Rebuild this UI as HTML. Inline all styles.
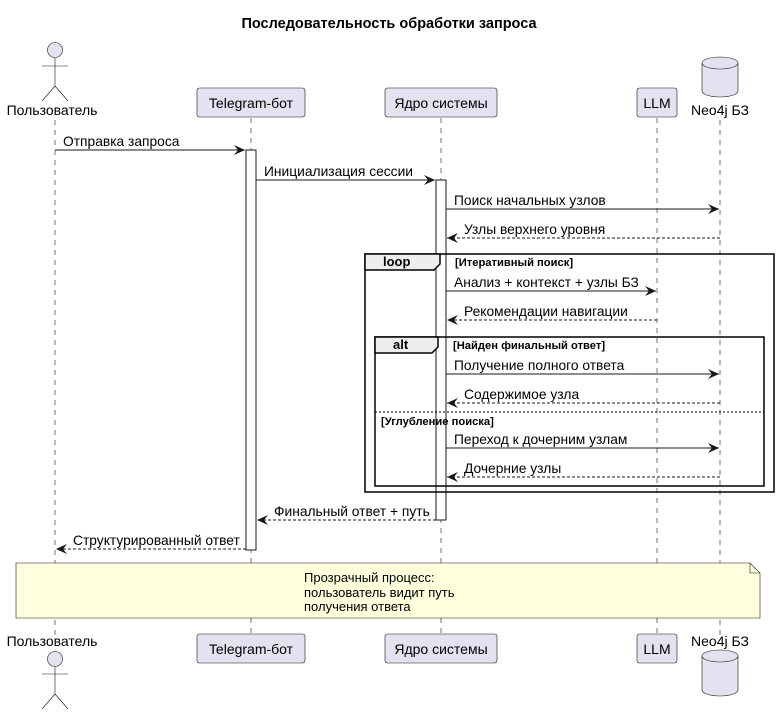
<!DOCTYPE html>
<html><head><meta charset="utf-8"><style>
body{margin:0;background:#fff}
svg text{font-family:"Liberation Sans","DejaVu Sans",sans-serif;fill:#000}
</style></head><body>
<svg width="778" height="714" viewBox="0 0 778 714" xmlns="http://www.w3.org/2000/svg">
<defs>
<marker id="a" markerWidth="12" markerHeight="10" refX="11" refY="5" orient="auto" markerUnits="userSpaceOnUse">
<path d="M0,0 L11,5 L0,10 L4,5 Z" fill="#181818"/></marker>
</defs>
<text x="389" y="28" font-size="14.5" font-weight="bold" text-anchor="middle">Последовательность обработки запроса</text>

<g stroke="#181818" stroke-width="0.6" stroke-dasharray="5,5">
<line x1="55" y1="120" x2="55" y2="635"/>
<line x1="251" y1="118" x2="251" y2="634"/>
<line x1="441" y1="118" x2="441" y2="634"/>
<line x1="657" y1="118" x2="657" y2="634"/>
<line x1="720" y1="120" x2="720" y2="635"/>
</g>

<g stroke="#181818" stroke-width="0.6" fill="#E2E2F0">
<circle cx="55" cy="50" r="7.5"/>
<rect x="197" y="88" width="108" height="29" rx="2.5"/>
<rect x="385" y="88" width="112" height="29" rx="2.5"/>
<rect x="637" y="88" width="40" height="29" rx="2.5"/>
<path d="M702,63 A18,6 0 0 1 738,63 L738,91 A18,6 0 0 1 702,91 Z"/>
<path d="M702,63 A18,6 0 0 0 738,63" fill="none"/>
<circle cx="55" cy="659" r="7.5"/>
<rect x="197" y="634" width="108" height="29" rx="2.5"/>
<rect x="385" y="634" width="112" height="29" rx="2.5"/>
<rect x="637" y="634" width="40" height="29" rx="2.5"/>
<path d="M702,656 A18,6 0 0 1 738,656 L738,690 A18,6 0 0 1 702,690 Z"/>
<path d="M702,656 A18,6 0 0 0 738,656" fill="none"/>
</g>
<g stroke="#181818" stroke-width="0.6" fill="none">
<line x1="55" y1="58" x2="55" y2="86"/><line x1="42" y1="66" x2="68" y2="66"/>
<path d="M42,101 L55,86 L68,101"/>
<line x1="55" y1="667" x2="55" y2="694"/><line x1="42" y1="674" x2="68" y2="674"/>
<path d="M42,709 L55,694 L68,709"/>
</g>
<g font-size="14" text-anchor="middle">
<text x="52" y="115">Пользователь</text>
<text x="251" y="108">Telegram-бот</text>
<text x="441" y="108">Ядро системы</text>
<text x="657" y="108">LLM</text>
<text x="720" y="115">Neo4j БЗ</text>
<text x="52" y="646">Пользователь</text>
<text x="251" y="654">Telegram-бот</text>
<text x="441" y="654">Ядро системы</text>
<text x="657" y="654">LLM</text>
<text x="720" y="646">Neo4j БЗ</text>
</g>

<rect x="246" y="150" width="10" height="400" fill="#fff" stroke="#181818" stroke-width="1"/>
<rect x="436" y="180" width="10" height="340" fill="#fff" stroke="#181818" stroke-width="1"/>

<g stroke="#000" stroke-width="1.5" fill="none">
<rect x="365" y="254" width="409" height="238"/>
<rect x="375" y="337" width="389" height="149"/>
</g>
<path d="M365,254 L440,254 L440,264 L434,270 L365,270 Z" fill="#EEEEEE" stroke="#000" stroke-width="1.5"/>
<path d="M375,337 L438,337 L438,347 L432,353 L375,353 Z" fill="#EEEEEE" stroke="#000" stroke-width="1.5"/>
<text x="383" y="266" font-size="13" font-weight="bold">loop</text>
<text x="393" y="349" font-size="13" font-weight="bold">alt</text>
<g font-size="11.2" font-weight="bold">
<text x="455" y="266">[Итеративный поиск]</text>
<text x="453" y="349">[Найден финальный ответ]</text>
<text x="381" y="425">[Углубление поиска]</text>
</g>
<line x1="375" y1="412" x2="764" y2="412" stroke="#000" stroke-width="1" stroke-dasharray="2,2"/>

<g stroke="#181818" stroke-width="1" fill="none" marker-end="url(#a)">
<line x1="55" y1="150" x2="245" y2="150"/>
<line x1="256" y1="180" x2="435" y2="180"/>
<line x1="446" y1="209" x2="719" y2="209"/>
<line x1="720" y1="238" x2="447" y2="238" stroke-dasharray="3,2"/>
<line x1="446" y1="291" x2="656" y2="291"/>
<line x1="657" y1="320" x2="447" y2="320" stroke-dasharray="3,2"/>
<line x1="446" y1="374" x2="719" y2="374"/>
<line x1="720" y1="403" x2="447" y2="403" stroke-dasharray="3,2"/>
<line x1="446" y1="448" x2="719" y2="448"/>
<line x1="720" y1="477" x2="447" y2="477" stroke-dasharray="3,2"/>
<line x1="436" y1="520" x2="257" y2="520" stroke-dasharray="3,2"/>
<line x1="246" y1="549" x2="56" y2="549" stroke-dasharray="3,2"/>
</g>
<g font-size="13.8">
<text x="63" y="146">Отправка запроса</text>
<text x="264" y="176">Инициализация сессии</text>
<text x="454" y="205">Поиск начальных узлов</text>
<text x="464" y="234">Узлы верхнего уровня</text>
<text x="454" y="287">Анализ + контекст + узлы БЗ</text>
<text x="464" y="316">Рекомендации навигации</text>
<text x="454" y="370">Получение полного ответа</text>
<text x="464" y="399">Содержимое узла</text>
<text x="454" y="444">Переход к дочерним узлам</text>
<text x="464" y="473">Дочерние узлы</text>
<text x="274" y="516">Финальный ответ + путь</text>
<text x="73" y="545">Структурированный ответ</text>
</g>

<path d="M16,563 L750,563 L760,573 L760,618 L16,618 Z" fill="#FEFFDD" stroke="#181818" stroke-width="0.6"/>
<path d="M750,563 L750,573 L760,573" fill="none" stroke="#181818" stroke-width="0.6"/>
<g font-size="13">
<text x="304" y="582">Прозрачный процесс:</text>
<text x="304" y="597">пользователь видит путь</text>
<text x="304" y="611">получения ответа</text>
</g>
</svg>
</body></html>
